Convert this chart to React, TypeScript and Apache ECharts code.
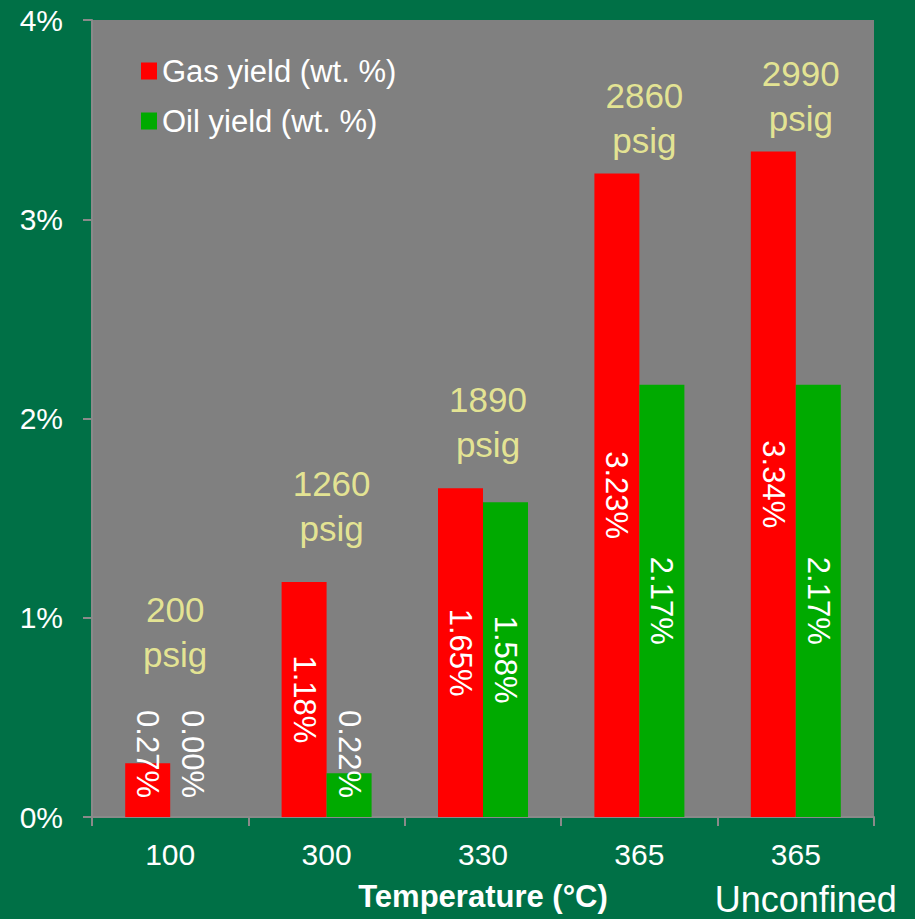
import React, { useEffect, useRef } from "react";
import * as echarts from "echarts";

// Pyrolysis yields by temperature
const categories = ["100", "300", "330", "365", "365\nUnconfined"];
const gasYield = [0.27, 1.18, 1.65, 3.23, 3.34];
const oilYield = [0.0, 0.22, 1.58, 2.17, 2.17];
const pressureText = ["200\npsig", "1260\npsig", "1890\npsig", "2860\npsig", "2990\npsig"];
// height (in % units) where each pressure note sits
const pressureNoteAt = [0.93, 1.56, 1.98, 3.51, 3.62];
const yTicks = { min: 0, max: 4, interval: 1 };

const FONT = "'Liberation Sans', Arial, sans-serif";
const BG = "#007046";
const PLOT = "#808080";
const AXIS = "#8a8a8a";
const NOTE = "#ffff99";

function barLabel(v: number) {
  const small = v < 0.5;
  return {
    show: true,
    rotate: -90,
    color: "#ffffff",
    fontSize: 31,
    fontFamily: FONT,
    textBorderWidth: 0,
    formatter: (p: any) => `${Number(p.value).toFixed(2)}%`,
    ...(small
      ? { position: "insideBottom", distance: 19, align: "right", verticalAlign: "middle" }
      : { position: "inside", align: "center", verticalAlign: "middle" }),
  };
}

export default function App() {
  const ref = useRef<HTMLDivElement>(null);

  useEffect(() => {
    if (!ref.current) return;
    const chart = echarts.init(ref.current, undefined, { renderer: "svg" });
    chart.setOption({
      animation: false,
      backgroundColor: BG,
      textStyle: { fontFamily: FONT },
      grid: {
        left: 92,
        right: 41,
        top: 20,
        bottom: 102,
        containLabel: false,
        outerBoundsMode: "none",
        show: true,
        backgroundColor: PLOT,
        borderWidth: 0,
      },
      legend: {
        orient: "vertical",
        left: 136,
        top: 49,
        itemWidth: 16,
        itemHeight: 17,
        itemGap: 16,
        icon: "rect",
        data: ["Gas yield (wt. %)", "Oil yield (wt. %)"],
        textStyle: { color: "#ffffff", fontSize: 31, lineHeight: 34, fontFamily: FONT },
      },
      xAxis: {
        type: "category",
        data: categories,
        name: "Temperature (°C)",
        nameLocation: "middle",
        nameGap: 64,
        nameMoveOverlap: false,
        nameTextStyle: { color: "#ffffff", fontSize: 31, fontWeight: "bold", fontFamily: FONT },
        axisLine: { show: true, lineStyle: { color: AXIS, width: 2 } },
        axisTick: { show: true, length: 9, lineStyle: { color: AXIS, width: 2 } },
        axisLabel: {
          interval: 0,
          color: "#ffffff",
          fontSize: 30,
          margin: 19,
          fontFamily: FONT,
          formatter: (v: string) => {
            const parts = v.split("\n");
            if (parts.length === 1) return `{a|${v}}`;
            return `{a|${parts[0]}}\n{b|${parts[1]}}`;
          },
          rich: {
            a: { fontSize: 30, color: "#ffffff", fontFamily: FONT, lineHeight: 36 },
            b: { fontSize: 36, color: "#ffffff", fontFamily: FONT, lineHeight: 54, padding: [0, 0, 0, 20] },
          },
        },
      },
      yAxis: {
        type: "value",
        min: yTicks.min,
        max: yTicks.max,
        interval: yTicks.interval,
        splitLine: { show: false },
        axisLine: { show: true, lineStyle: { color: AXIS, width: 2 } },
        axisTick: { show: true, length: 9, lineStyle: { color: AXIS, width: 2 } },
        axisLabel: {
          color: "#ffffff",
          fontSize: 30,
          margin: 29,
          fontFamily: FONT,
          formatter: "{value}%",
        },
      },
      series: [
        {
          name: "Gas yield (wt. %)",
          type: "bar",
          barWidth: 45,
          barGap: "0%",
          itemStyle: { color: "#ff0000" },
          data: gasYield.map((v) => ({ value: v, label: barLabel(v) })),
        },
        {
          name: "Oil yield (wt. %)",
          type: "bar",
          barWidth: 45,
          barGap: "0%",
          itemStyle: { color: "#00aa00" },
          data: oilYield.map((v) => ({ value: v, label: barLabel(v) })),
        },
        {
          name: "pressure",
          type: "scatter",
          symbolSize: 0,
          itemStyle: { color: PLOT },
          silent: true,
          z: 5,
          data: pressureNoteAt.map((y, i) => ({
            value: [i, y],
            label: {
              show: true,
              position: "inside",
              offset: [5, 0],
              formatter: pressureText[i],
              color: NOTE,
              textBorderWidth: 0,
              fontSize: 35,
              lineHeight: 45,
              fontFamily: FONT,
              align: "center",
              verticalAlign: "middle",
            },
          })),
        },
      ],
    });
    return () => chart.dispose();
  }, []);

  return (
    <div
      ref={ref}
      style={{ position: "absolute", left: 0, top: 0, width: 915, height: 919, background: BG }}
    />
  );
}
